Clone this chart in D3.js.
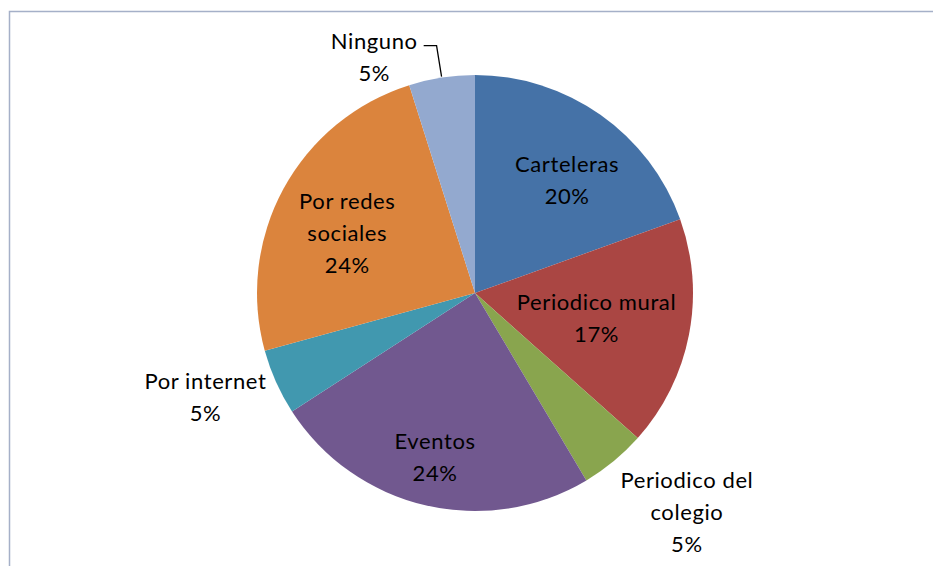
<!DOCTYPE html>
<html>
<head>
<meta charset="utf-8">
<script src="https://cdn.jsdelivr.net/npm/d3@7"></script>
<style>
  html, body { margin: 0; padding: 0; background: #fff; }
  svg text { font-family: Lato, "Open Sans", sans-serif; fill: #000; }
</style>
</head>
<body>
<div id="chart"></div>
<script>
// data
const categories = ["Carteleras", "Periodico mural", "Periodico del colegio", "Eventos", "Por internet", "Por redes sociales", "Ninguno"];
const counts = [8, 7, 2, 10, 2, 10, 2];
const labelLines = [
  ["Carteleras"],
  ["Periodico mural"],
  ["Periodico del", "colegio"],
  ["Eventos"],
  ["Por internet"],
  ["Por redes", "sociales"],
  ["Ninguno"]
];
const colors = ["#4572A7", "#AA4643", "#89A54E", "#71588F", "#4198AF", "#DB843D", "#93A9CF"];

// label placement: angle nudge (deg) from slice middle, distance from centre
const labelLayout = [
  { nudge: 4, dist: 146 },
  { nudge: 0.5, dist: 124 },
  { nudge: -4.5, dist: 305 },
  { nudge: 0.5, dist: 169 },
  { nudge: 3, dist: 289 },
  { nudge: -3.5, dist: 141 },
  { nudge: -14.3, dist: 257 }
];

const width = 933, height = 566;
const cx = 475, cy = 293, radius = 218;
const lineH = 32;

const svg = d3.select("#chart").append("svg")
  .attr("width", width)
  .attr("height", height);

// chart area border
svg.append("rect")
  .attr("x", 9.5).attr("y", 11.5)
  .attr("width", 930).attr("height", 600)
  .attr("fill", "none")
  .attr("stroke", "#a5b0c8")
  .attr("stroke-width", 1.5);

const total = d3.sum(counts);
const data = categories.map((c, i) => ({ name: c, value: counts[i], i }));

const pie = d3.pie().sort(null).value(d => d.value);
const arc = d3.arc().innerRadius(0).outerRadius(radius);
const arcs = pie(data);

const g = svg.append("g").attr("transform", `translate(${cx},${cy})`);

g.selectAll(".slice")
  .data(arcs)
  .enter()
  .append("path")
  .attr("class", "slice")
  .attr("d", arc)
  .attr("fill", d => colors[d.data.i]);

const polar = (angle, r) => [Math.sin(angle) * r, -Math.cos(angle) * r];
const fmt = d => Math.round(d.value / total * 100) + "%";

const labels = g.selectAll(".slice-label")
  .data(arcs)
  .enter()
  .append("text")
  .attr("class", "slice-label")
  .attr("text-anchor", "middle")
  .attr("font-size", 22)
  .attr("letter-spacing", 0.6)
  .each(function (d) {
    const lay = labelLayout[d.data.i];
    const mid = (d.startAngle + d.endAngle) / 2 + lay.nudge * Math.PI / 180;
    const [x, y] = polar(mid, lay.dist);
    const lines = labelLines[d.data.i].concat([fmt(d)]);
    const y0 = y - (lines.length - 1) * lineH / 2 + 8;
    d.labelPos = [x, y0];
    const t = d3.select(this);
    lines.forEach((ln, k) => {
      t.append("tspan")
        .attr("x", x)
        .attr("y", y0 + k * lineH)
        .text(ln);
    });
  });

// leader line for Ninguno
const nin = arcs[6];
const ninMid = (nin.startAngle + nin.endAngle) / 2;
const p0 = polar(ninMid, radius + 1);
const firstSpan = labels.filter(d => d.data.i === 6).select("tspan").node();
const w = firstSpan.getComputedTextLength();
const ly = nin.labelPos[1] - 3;
const right = nin.labelPos[0] + w / 2 + 6;
g.append("polyline")
  .attr("points", [[right, ly], [p0[0] - 5, ly], p0].map(p => p.join(",")).join(" "))
  .attr("fill", "none")
  .attr("stroke", "#000")
  .attr("stroke-width", 1.3);
</script>
</body>
</html>
